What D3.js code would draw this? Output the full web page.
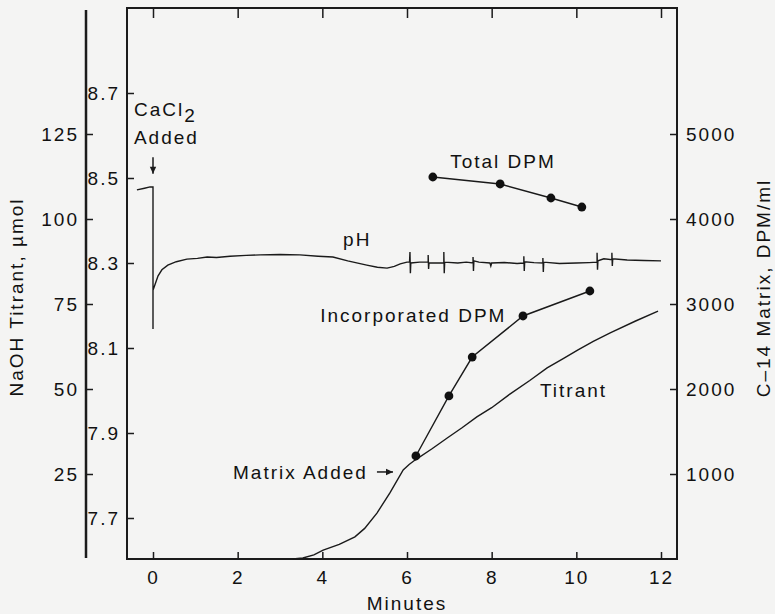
<!DOCTYPE html>
<html>
<head>
<meta charset="utf-8">
<script src="https://cdn.jsdelivr.net/npm/d3@7"></script>
<style>
  body { margin: 0; background: #f4f4f3; }
  svg text { font-family: "Liberation Sans", Arial, sans-serif; font-size: 19px; letter-spacing: 2px; fill: #111; }
  .tick line { stroke: #1b1b1b; stroke-width: 1.5; }
  .trace { fill: none; stroke: #1a1a1a; stroke-width: 1.4; }
</style>
</head>
<body>
<div id="content"></div>
<script>
// tick labels
const minuteTicks = [0, 2, 4, 6, 8, 10, 12]
const phTicks = [7.7, 7.9, 8.1, 8.3, 8.5, 8.7]
const naohTicks = [25, 50, 75, 100, 125]
const dpmTicks = [1000, 2000, 3000, 4000, 5000]

const phTrace = [
  [-0.38, 8.472], [-0.2, 8.476], [-0.07, 8.479], [0, 8.479], [0, 8.145], [0, 8.236],
  [0.05, 8.25], [0.12, 8.27], [0.21, 8.284], [0.35, 8.295], [0.55, 8.303], [0.8, 8.309],
  [1.05, 8.311], [1.28, 8.314], [1.5, 8.313], [1.82, 8.316], [2.2, 8.318], [2.53, 8.319],
  [3.0, 8.32], [3.47, 8.319], [3.9, 8.316], [4.25, 8.314], [4.6, 8.305], [5.05, 8.295],
  [5.3, 8.29], [5.53, 8.288], [5.7, 8.292], [5.84, 8.298], [6.0, 8.302],
  [6.06, 8.302], [6.07, 8.326], [6.08, 8.276], [6.09, 8.3], [6.3, 8.302],
  [6.5, 8.302], [6.5, 8.319], [6.51, 8.286], [6.52, 8.3], [6.7, 8.3],
  [6.87, 8.3], [6.87, 8.326], [6.88, 8.276], [6.89, 8.302], [7.2, 8.3], [7.4, 8.302],
  [7.56, 8.3], [7.56, 8.314], [7.57, 8.281], [7.58, 8.305], [7.7, 8.302],
  [7.96, 8.3], [7.98, 8.293], [8.0, 8.3], [8.3, 8.301], [8.6, 8.299],
  [8.76, 8.3], [8.76, 8.316], [8.77, 8.281], [8.78, 8.303], [9.0, 8.301],
  [9.21, 8.3], [9.21, 8.312], [9.22, 8.279], [9.23, 8.302], [9.6, 8.299], [10.0, 8.3], [10.3, 8.301],
  [10.49, 8.302], [10.49, 8.324], [10.5, 8.284], [10.51, 8.305], [10.65, 8.31],
  [10.84, 8.308], [10.84, 8.324], [10.85, 8.293], [10.86, 8.31],
  [11.2, 8.307], [11.6, 8.306], [12.0, 8.305]
]

// NaOH titrant [minutes, umol]
const titrant = [
  [3.3, 0], [3.54, 0.3], [3.8, 1.2], [4.02, 2.6], [4.4, 4.3], [4.77, 6.5], [5.0, 9],
  [5.29, 13.5], [5.6, 19.5], [5.91, 26.2], [6.05, 27.8], [6.19, 29.1], [6.6, 32.5],
  [6.95, 35.6], [7.3, 38.6], [7.65, 41.8], [8.0, 44.5], [8.43, 48.5], [8.9, 52.5],
  [9.31, 56.2], [9.7, 59], [10.04, 61.5], [10.4, 64], [10.8, 66.5], [11.4, 70], [11.93, 72.9]
]

// C-14 counts [minutes, DPM/ml]
const totalDpm = [[6.61, 4494], [8.2, 4412], [9.4, 4247], [10.13, 4141]]
const incorporatedDpm = [[6.21, 1212], [6.99, 1918], [7.54, 2376], [8.74, 2859], [10.32, 3153]]


const width = 775
const height = 614
const box = {left: 127, right: 677, top: 8, bottom: 559}

const svg = d3.select("#content").append("svg")
    .attr("width", width)
    .attr("height", height)

// scales
const x = d3.scaleLinear().domain([0, 12]).range([153, 661])
const yPh = d3.scaleLinear().domain([7.7, 8.7]).range([518, 93])
const yNaoh = d3.scaleLinear().domain([0, 125]).range([box.bottom, 134])
const yDpm = d3.scaleLinear().domain([0, 5000]).range([box.bottom, 134])


// frame
svg.append("rect")
    .attr("x", box.left).attr("y", box.top)
    .attr("width", box.right - box.left).attr("height", box.bottom - box.top)
    .attr("fill", "none").attr("stroke", "#1b1b1b").attr("stroke-width", 2)

// outer naoh axis line
svg.append("line")
    .attr("x1", 86).attr("x2", 86)
    .attr("y1", 10).attr("y2", 558)
    .attr("stroke", "#1b1b1b").attr("stroke-width", 2.5)


// axes
function tidy(g) {
    g.select(".domain").remove()
    g.attr("font-family", null).attr("font-size", null)
}

svg.append("g")
    .attr("transform", `translate(0, ${box.bottom})`)
    .call(d3.axisBottom(x).tickValues(minuteTicks).tickSize(-7).tickPadding(12))
    .call(tidy)

svg.append("g")
    .attr("transform", `translate(0, ${box.top})`)
    .call(d3.axisTop(x).tickValues(minuteTicks).tickSize(-10).tickFormat(""))
    .call(tidy)

svg.append("g")
    .attr("transform", `translate(${box.left}, 0)`)
    .call(d3.axisLeft(yPh).tickValues(phTicks).tickSize(-7).tickPadding(7).tickFormat(d3.format(".1f")))
    .call(tidy)

svg.append("g")
    .attr("transform", "translate(86, 0)")
    .call(d3.axisLeft(yNaoh).tickValues(naohTicks).tickSize(-7).tickPadding(7))
    .call(tidy)

svg.append("g")
    .attr("transform", `translate(${box.right}, 0)`)
    .call(d3.axisRight(yDpm).tickValues(dpmTicks).tickSize(-7).tickPadding(9).tickFormat(d3.format("d")))
    .call(tidy)


// axis titles
svg.append("text")
    .attr("transform", "translate(23, 297) rotate(-90)")
    .attr("text-anchor", "middle")
    .text("NaOH Titrant, µmol")

svg.append("text")
    .attr("transform", "translate(770, 288) rotate(-90)")
    .attr("text-anchor", "middle")
    .text("C–14 Matrix, DPM/ml")

svg.append("text")
    .attr("x", x(6)).attr("y", 610)
    .attr("text-anchor", "middle")
    .text("Minutes")


// traces
svg.append("path")
    .datum(phTrace)
    .attr("class", "trace")
    .attr("d", d3.line().x(d => x(d[0])).y(d => yPh(d[1])))

svg.append("path")
    .datum(titrant)
    .attr("class", "trace")
    .attr("d", d3.line().x(d => x(d[0])).y(d => yNaoh(d[1])))

const dpmLine = d3.line().x(d => x(d[0])).y(d => yDpm(d[1]))
for (const series of [totalDpm, incorporatedDpm]) {
    svg.append("path")
        .datum(series)
        .attr("class", "trace")
        .attr("d", dpmLine)
    svg.append("g").selectAll("circle")
        .data(series)
        .join("circle")
        .attr("cx", d => x(d[0]))
        .attr("cy", d => yDpm(d[1]))
        .attr("r", 4.4)
        .attr("fill", "#111")
}


// annotations (placed in data units)
const cacl = svg.append("text")
    .attr("x", x(-0.45)).attr("y", yPh(8.646))
cacl.append("tspan").text("CaCl")
cacl.append("tspan").attr("dy", 6).text("2")

svg.append("text").attr("x", x(-0.45)).attr("y", yPh(8.58)).text("Added")
svg.append("text").attr("x", x(4.49)).attr("y", yPh(8.34)).text("pH")
svg.append("text").attr("x", x(7.02)).attr("y", yDpm(4600)).text("Total DPM")
svg.append("text").attr("x", x(3.95)).attr("y", yDpm(2788)).text("Incorporated DPM")
svg.append("text").attr("x", x(9.14)).attr("y", yNaoh(47.6)).text("Titrant")
svg.append("text").attr("x", x(1.89)).attr("y", yNaoh(23.5)).text("Matrix Added")

// small arrows
function arrow(x1, y1, x2, y2) {
    const a = Math.atan2(y2 - y1, x2 - x1)
    svg.append("line")
        .attr("x1", x1).attr("y1", y1).attr("x2", x2).attr("y2", y2)
        .attr("stroke", "#1b1b1b").attr("stroke-width", 1.5)
    const s = 7, w = 3.2
    const p = [
        [x2, y2],
        [x2 - s * Math.cos(a) + w * Math.sin(a), y2 - s * Math.sin(a) - w * Math.cos(a)],
        [x2 - s * Math.cos(a) - w * Math.sin(a), y2 - s * Math.sin(a) + w * Math.cos(a)]
    ]
    svg.append("path").attr("d", "M" + p.join("L") + "Z").attr("fill", "#1b1b1b")
}
arrow(x(0), yPh(8.549), x(0), yPh(8.51))
arrow(x(5.29), yNaoh(25.6), x(5.67), yNaoh(25.6))
</script>
</body>
</html>
